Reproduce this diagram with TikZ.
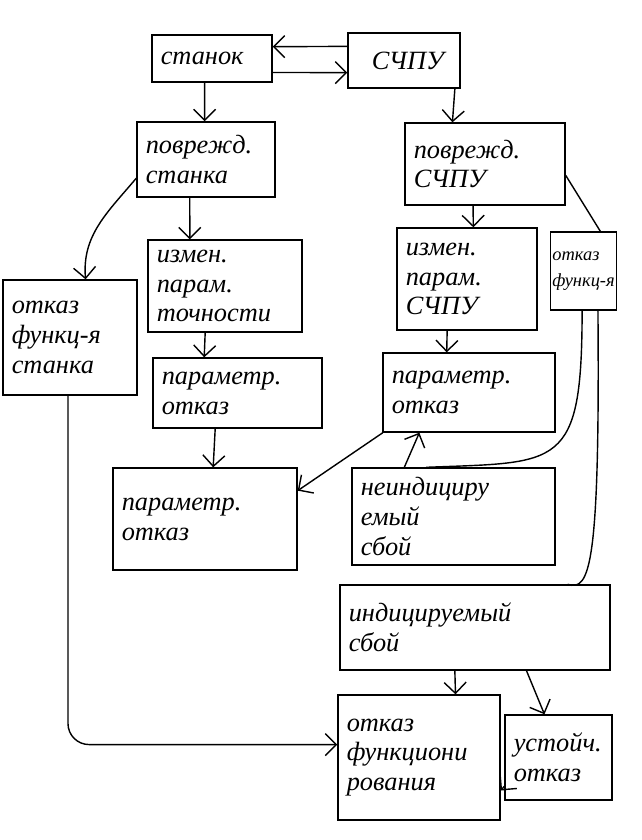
\documentclass[tikz,border=0pt]{standalone}
\usepackage{fontspec}
\setmainfont{Liberation Serif}
\usetikzlibrary{arrows.meta}

\tikzset{
  box/.style={draw,thick,align=left,inner xsep=5pt,inner ysep=3pt,font=\itshape\fontsize{15}{17}\selectfont},
}

\begin{document}
\begin{tikzpicture}[x=0.02cm,y=-0.02cm]
    \useasboundingbox (0,0) rectangle (642,840);

    \node[box,text width=2.05cm,minimum height=0.94cm] (1) at (212,58.5) {станок};
    \node[box,text width=1.89cm,minimum height=1.1cm] (2) at (404,60.5) {\hspace{3mm}СЧПУ};
    \node[box,text width=2.41cm,minimum height=1.5cm] (3) at (206,159.5) {поврежд.\\станка};
    \node[box,text width=2.85cm,minimum height=1.64cm] (4) at (485,164) {поврежд.\\СЧПУ};
    \node[box,text width=2.73cm,minimum height=1.84cm] (5) at (225,286) {измен.\\парам.\\точности};
    \node[box,text width=2.33cm,minimum height=2.3cm] (6) at (70,337.5) {отказ\\функц-я\\станка};
    \node[box,text width=2.45cm,minimum height=2.04cm] (7) at (467,279) {измен.\\парам.\\СЧПУ};
    \node[box,minimum width=1.2cm,minimum height=1.56cm,inner xsep=1pt,font=\itshape\fontsize{10.5}{15}\selectfont] (8) at (583.5,271) {отказ\\функц-я};
    \node[box,text width=3.03cm,minimum height=1.4cm] (9) at (237.5,393) {параметр.\\отказ};
    \node[box,text width=3.09cm,minimum height=1.58cm] (10) at (469,392.5) {параметр.\\отказ};
    \node[box,text width=3.33cm,minimum height=2.04cm] (11) at (205,519) {параметр.\\отказ};
    \node[box,text width=3.71cm,minimum height=1.94cm] (12) at (453.5,516.5) {неиндициру\\емый\\сбой};
    \node[box,text width=5.05cm,minimum height=1.7cm] (13) at (475,627.5) {индицируемый\\сбой};
    \node[box,text width=2.89cm,minimum height=2.5cm] (14) at (419,757.5) {отказ\\функциони\\рования};
    \node[box,text width=1.79cm,minimum height=1.7cm] (15) at (558.5,757.5) {устойч.\\отказ};

    \path[thick,-{Straight Barb[length=2.2mm]}]
    (2.166) edge (1.11)
    (1.-13) edge (2.192)
    (1.-107) edge (3.92)
    (2.-29) edge (4.128)
    (3.-113) edge (5.127)
    (3.195) edge [out=230,in=95] (6.75)
    (5.-113) edge (9.133)
    (9.-122) edge (11.81)
    (4.-106) edge (7.83)
    (4.-8) edge [-] (8.67)
    (7.-111) edge (10.119)
    (10.205) edge (11.17)
    (12.135) edge (10.-141)
    (13.-115) edge (14.60)
    (13.-40) edge (15.108)
    (15.208) edge (14.-22);

    \draw[thick] (8.-92) .. controls (582,470) and (560,462) .. (12.119);
    \draw[thick] (8.-70) .. controls (600,565) and (590,592) .. (13.25);
    \draw[thick,rounded corners=12pt,-{Straight Barb[length=2.2mm]}] (6.-92) |- (14.171);
\end{tikzpicture}
\end{document}
